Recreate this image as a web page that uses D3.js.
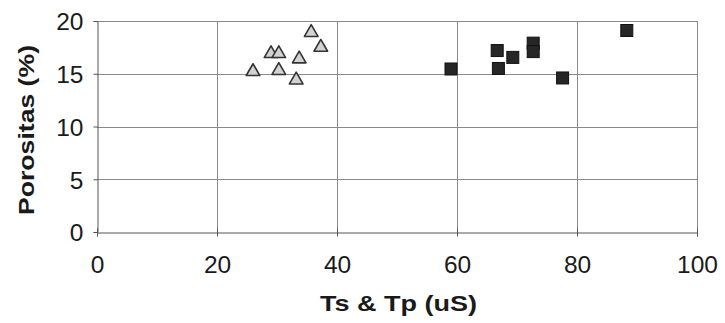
<!DOCTYPE html>
<html>
<head>
<meta charset="utf-8">
<script src="https://cdn.jsdelivr.net/npm/d3@7"></script>
<style>
  html, body { margin: 0; padding: 0; background: #fff; }
  svg { display: block; }
  text { font-family: "Liberation Sans", Arial, sans-serif; fill: #1a1a1a; }
</style>
</head>
<body>
<svg id="chart" width="725" height="323"></svg>
<script>
// Ts readings (triangles)
const tsX = [26.0, 29.0, 30.3, 30.3, 33.2, 33.7, 35.7, 37.3];
const tsY = [15.3, 17.0, 17.0, 15.4, 14.5, 16.5, 19.0, 17.6];
// Tp readings (squares)
const tpX = [59.0, 66.7, 66.9, 69.3, 72.7, 72.7, 77.6, 88.3];
const tpY = [15.45, 17.2, 15.5, 16.55, 17.9, 17.1, 14.6, 19.1];
const xTicks = [0, 20, 40, 60, 80, 100];
const yTicks = [0, 5, 10, 15, 20];
const xTitle = "Ts & Tp (uS)";
const yTitle = "Porositas (%)";

const svg = d3.select("#chart");
const plotL = 97, plotR = 697, plotT = 21, plotB = 232;

const x = d3.scaleLinear().domain([0, 100]).range([plotL, plotR]);
const y = d3.scaleLinear().domain([0, 20]).range([plotB, plotT]);

const grid = svg.append("g").attr("stroke", "#8a8a8a").attr("stroke-width", 1);
// vertical gridlines
grid.selectAll("line.v").data(xTicks.slice(1)).join("line")
  .attr("x1", d => Math.round(x(d)) + 0.5).attr("x2", d => Math.round(x(d)) + 0.5)
  .attr("y1", plotT).attr("y2", plotB);
// horizontal gridlines
grid.selectAll("line.h").data(yTicks.slice(1)).join("line")
  .attr("x1", plotL).attr("x2", plotR)
  .attr("y1", d => Math.round(y(d)) + 0.5).attr("y2", d => Math.round(y(d)) + 0.5);

// axes
const xAxis = svg.append("g")
  .attr("transform", `translate(0,${Math.round(y(0)) + 0.5})`)
  .call(d3.axisBottom(x).tickValues(xTicks).tickSize(4).tickFormat(d3.format("d")));
const yAxis = svg.append("g")
  .attr("transform", `translate(${Math.round(x(0)) + 0.5},0)`)
  .call(d3.axisLeft(y).tickValues(yTicks).tickSize(4).tickPadding(10).tickFormat(d3.format("d")));

[xAxis, yAxis].forEach(a => {
  a.select(".domain").attr("stroke", "#555").attr("stroke-width", 1);
  a.selectAll(".tick line").attr("stroke", "#555");
  a.selectAll(".tick text").attr("font-size", 24.5).attr("fill", "#1a1a1a")
    .attr("font-family", "'Liberation Sans', Arial, sans-serif");
});
xAxis.selectAll(".tick line").attr("y1", -4).attr("y2", 4);
xAxis.selectAll(".tick text").attr("y", 40.5).attr("dy", 0);
yAxis.selectAll(".tick text").attr("dy", "0.36em");

// triangles
const tri = d3.symbol().type(d3.symbolTriangle).size(80);
svg.append("g").selectAll("path").data(tsX.map((v, i) => [v, tsY[i]])).join("path")
  .attr("d", tri)
  .attr("transform", d => `translate(${x(d[0])},${y(d[1]) + 1})`)
  .attr("fill", "#d2d2d2").attr("stroke", "#333").attr("stroke-width", 1.6)
  .attr("stroke-linejoin", "round");

// squares
const sq = 12;
svg.append("g").selectAll("rect").data(tpX.map((v, i) => [v, tpY[i]])).join("rect")
  .attr("x", d => x(d[0]) - sq / 2).attr("y", d => y(d[1]) - sq / 2)
  .attr("width", sq).attr("height", sq)
  .attr("fill", "#262626").attr("stroke", "#111").attr("stroke-width", 1);

// titles
svg.append("text")
  .attr("x", 398.5).attr("y", 311)
  .attr("text-anchor", "middle").attr("font-size", 22).attr("font-weight", "bold")
  .attr("textLength", 157).attr("lengthAdjust", "spacingAndGlyphs")
  .text(xTitle);
svg.append("text")
  .attr("transform", `translate(34,130) rotate(-90)`)
  .attr("text-anchor", "middle").attr("font-size", 22).attr("font-weight", "bold")
  .attr("textLength", 170).attr("lengthAdjust", "spacingAndGlyphs")
  .text(yTitle);
</script>
</body>
</html>
